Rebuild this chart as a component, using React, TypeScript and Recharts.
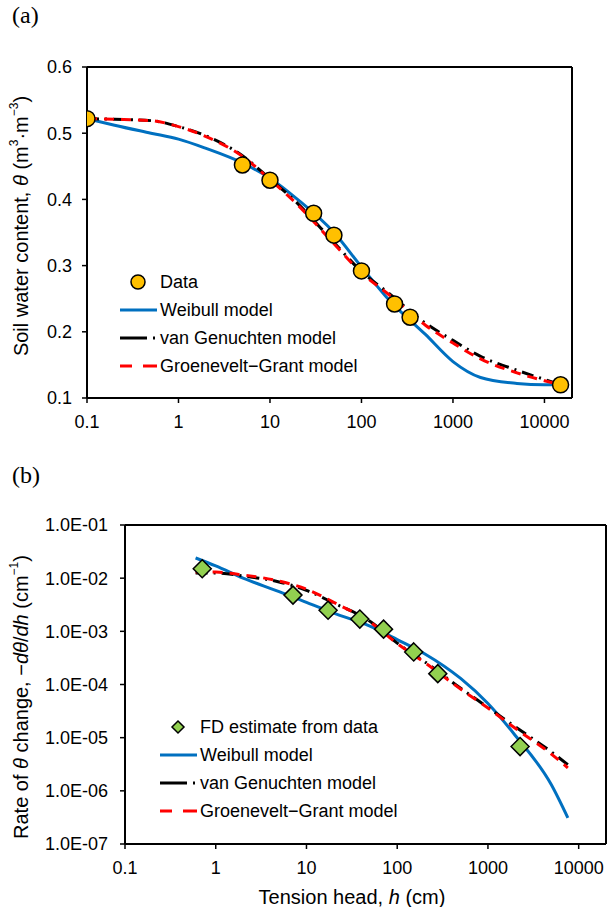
import React from 'react'
import { ComposedChart, Line, Scatter, XAxis, YAxis, ReferenceLine, Legend } from 'recharts'

const FONT = '"Liberation Sans", Arial, sans-serif'
const BLUE = '#0070C0'
const RED = '#FF0000'

// (a) water retention: measured points
const dataH = [0.1, 5, 10, 30, 50, 100, 230, 340, 15000]
const dataTheta = [0.522, 0.452, 0.429, 0.379, 0.346, 0.292, 0.242, 0.222, 0.12]

// (a) model curves
const curveH = [0.1, 0.2, 0.5, 1, 2, 5, 10, 20, 50, 100, 200, 500, 1000, 2000, 5000, 10000, 15000]
const weibullTheta = [0.522, 0.512, 0.5, 0.491, 0.477, 0.455, 0.432, 0.4, 0.35, 0.298, 0.248, 0.196, 0.155, 0.131, 0.122, 0.12, 0.12]
const vgTheta = [0.522, 0.521, 0.519, 0.51, 0.496, 0.466, 0.431, 0.394, 0.335, 0.291, 0.258, 0.213, 0.187, 0.163, 0.142, 0.128, 0.12]
const ggTheta = [0.522, 0.521, 0.519, 0.51, 0.495, 0.465, 0.43, 0.392, 0.333, 0.289, 0.256, 0.21, 0.183, 0.159, 0.138, 0.126, 0.12]

// (b) rate of change: finite-difference estimates
const fdH = [0.71, 7.1, 17.3, 38.7, 70.7, 152, 280, 2260]
const fdRate = [1.5e-2, 4.8e-3, 2.5e-3, 1.7e-3, 1.1e-3, 4.1e-4, 1.6e-4, 6.8e-6]

// (b) model curves
const rateH = [0.6, 1, 2, 5, 10, 20, 50, 100, 200, 500, 1000, 2000, 5000, 7600]
const weibullRate = [2.4e-2, 1.7e-2, 1.0e-2, 5.6e-3, 3.5e-3, 2.2e-3, 1.25e-3, 7.0e-4, 3.8e-4, 1.3e-4, 4.4e-5, 1.1e-5, 1.3e-6, 3.1e-7]
const vgRate = [1.25e-2, 1.25e-2, 1.1e-2, 8.5e-3, 5.9e-3, 3.4e-3, 1.55e-3, 6.0e-4, 2.7e-4, 8.5e-5, 3.7e-5, 1.6e-5, 5.4e-6, 3.1e-6]
const ggRate = [1.3e-2, 1.3e-2, 1.15e-2, 8.8e-3, 6.2e-3, 3.5e-3, 1.5e-3, 5.9e-4, 2.6e-4, 8.2e-5, 3.6e-5, 1.5e-5, 4.9e-6, 2.7e-6]

const xTicks = [0.1, 1, 10, 100, 1000, 10000]
const thetaTicks = [0.1, 0.2, 0.3, 0.4, 0.5, 0.6]
const rateTicks = [1e-7, 1e-6, 1e-5, 1e-4, 1e-3, 1e-2, 1e-1]

const pairs = (xs: number[], ys: number[]) => xs.map((h, i) => ({ h, v: ys[i] }))

const fmtExp = (v: number) => {
  const e = Math.round(Math.log10(v))
  return `1.0E${e < 0 ? '-' : '+'}${String(Math.abs(e)).padStart(2, '0')}`
}

const tickStyle = { fill: '#000', fontSize: 18, fontFamily: FONT }
const axisLine = { stroke: '#000', strokeWidth: 2 }
const tickLine = { stroke: '#000', strokeWidth: 1.5 }

const Circle = (p: any) => (
  <circle cx={p.cx} cy={p.cy} r={8} fill="#FFC000" stroke="#000" strokeWidth={1.5} />
)
const Diamond = (p: any) => (
  <polygon
    points={`${p.cx},${p.cy - 9} ${p.cx + 9},${p.cy} ${p.cx},${p.cy + 9} ${p.cx - 9},${p.cy}`}
    fill="#92D050" stroke="#000" strokeWidth={1.5}
  />
)

const soilLabel = () => (
  <text transform="translate(21,226) rotate(-90)" textAnchor="middle" dominantBaseline="central"
    fontFamily={FONT} fontSize={20} fill="#000">
    Soil water content, <tspan fontStyle="italic">θ</tspan> (m<tspan dy={-7} fontSize={12}>3</tspan>
    <tspan dy={7}>·m</tspan><tspan dy={-7} fontSize={12}>−3</tspan><tspan dy={7}>)</tspan>
  </text>
)

const rateLabel = () => (
  <text transform="translate(21,267) rotate(-90)" textAnchor="middle" dominantBaseline="central"
    fontFamily={FONT} fontSize={20} fill="#000">
    Rate of <tspan fontStyle="italic">θ</tspan> change, −<tspan fontStyle="italic">dθ</tspan>/<tspan fontStyle="italic">dh</tspan> (cm
    <tspan dy={-7} fontSize={12}>−1</tspan><tspan dy={7}>)</tspan>
  </text>
)

const headLabel = () => (
  <text x={352} y={467} textAnchor="middle" dominantBaseline="central" fontFamily={FONT} fontSize={20} fill="#000">
    Tension head, <tspan fontStyle="italic">h</tspan> (cm)
  </text>
)

const LegendBody = ({ first, marker }: { first: string, marker: 'circle' | 'diamond' }) => (
  <svg width={320} height={112} style={{ display: 'block' }}>
    {marker === 'circle'
      ? <circle cx={38} cy={14} r={7} fill="#FFC000" stroke="#000" strokeWidth={1.5} />
      : <polygon points="38,8 44,14 38,20 32,14" fill="#92D050" stroke="#000" strokeWidth={1.5} />}
    <line x1={20} x2={57} y1={42} y2={42} stroke={BLUE} strokeWidth={3} />
    <line x1={20} x2={57} y1={70} y2={70} stroke="#000" strokeWidth={3} strokeDasharray="27 6 2 10" />
    <line x1={20} x2={57} y1={98} y2={98} stroke={RED} strokeWidth={3} strokeDasharray="12 11 14" />
    {[first, 'Weibull model', 'van Genuchten model', 'Groenevelt−Grant model'].map((t, i) => (
      <text key={t} x={60} y={14 + i * 28} dominantBaseline="central" fontFamily={FONT} fontSize={18} fill="#000">{t}</text>
    ))}
  </svg>
)

const Panel = ({ text, top }: { text: string, top: number }) => (
  <div style={{ position: 'absolute', left: 12, top, fontFamily: '"Liberation Serif", "Times New Roman", serif', fontSize: 24 }}>{text}</div>
)

export default function App() {
  return (
    <div style={{ position: 'absolute', left: 0, top: 0, width: 608, height: 907, background: '#fff' }}>
      <div style={{ position: 'absolute', left: 0, top: 0 }}>
        <ComposedChart width={608} height={440} margin={{ top: 67, right: 36, left: 0, bottom: 0 }}>
          <XAxis dataKey="h" type="number" scale="log" domain={[0.1, 20000]} ticks={xTicks} allowDataOverflow
            tickFormatter={(v) => String(v)} tick={tickStyle} axisLine={axisLine} tickLine={tickLine}
            tickSize={5} tickMargin={12} height={42} interval={0} />
          <YAxis type="number" domain={[0.1, 0.6]} ticks={thetaTicks} allowDataOverflow
            tickFormatter={(v) => v.toFixed(1)} tick={tickStyle} axisLine={axisLine} tickLine={tickLine}
            tickSize={5} tickMargin={10} width={87} interval={0} label={soilLabel} />
          <ReferenceLine y={0.6} stroke="#000" strokeWidth={2} />
          <ReferenceLine x={20000} stroke="#000" strokeWidth={2} />
          <Line data={pairs(curveH, weibullTheta)} dataKey="v" type="monotone" stroke={BLUE} strokeWidth={3} dot={false} isAnimationActive={false} />
          <Line data={pairs(curveH, vgTheta)} dataKey="v" type="monotone" stroke="#000" strokeWidth={3} strokeDasharray="12 6 2 6" dot={false} isAnimationActive={false} />
          <Line data={pairs(curveH, ggTheta)} dataKey="v" type="monotone" stroke={RED} strokeWidth={3} strokeDasharray="10 7" dot={false} isAnimationActive={false} />
          <Scatter data={pairs(dataH, dataTheta)} dataKey="v" shape={Circle} isAnimationActive={false} />
          <Legend layout="vertical" align="center" verticalAlign="middle"
            wrapperStyle={{ left: 100, top: 268, width: 320 }}
            content={() => <LegendBody first="Data" marker="circle" />} />
        </ComposedChart>
      </div>
      <div style={{ position: 'absolute', left: 0, top: 430 }}>
        <ComposedChart width={608} height={477} margin={{ top: 95, right: 2, left: 0, bottom: 0 }}>
          <XAxis dataKey="h" type="number" scale="log" domain={[0.1, 20000]} ticks={xTicks} allowDataOverflow
            tickFormatter={(v) => String(v)} tick={tickStyle} axisLine={axisLine} tickLine={tickLine}
            tickSize={5} tickMargin={12} height={63} interval={0} label={headLabel} />
          <YAxis type="number" scale="log" domain={[1e-7, 1e-1]} ticks={rateTicks} allowDataOverflow
            tickFormatter={fmtExp} tick={tickStyle} axisLine={axisLine} tickLine={tickLine}
            tickSize={5} tickMargin={12} width={125} interval={0} label={rateLabel} />
          <ReferenceLine y={1e-1} stroke="#000" strokeWidth={2} />
          <ReferenceLine x={20000} stroke="#000" strokeWidth={2} />
          <Line data={pairs(rateH, weibullRate)} dataKey="v" type="monotone" stroke={BLUE} strokeWidth={3} dot={false} isAnimationActive={false} />
          <Line data={pairs(rateH, vgRate)} dataKey="v" type="monotone" stroke="#000" strokeWidth={3} strokeDasharray="12 6 2 6" dot={false} isAnimationActive={false} />
          <Line data={pairs(rateH, ggRate)} dataKey="v" type="monotone" stroke={RED} strokeWidth={3} strokeDasharray="10 7" dot={false} isAnimationActive={false} />
          <Scatter data={pairs(fdH, fdRate)} dataKey="v" shape={Diamond} isAnimationActive={false} />
          <Legend layout="vertical" align="center" verticalAlign="middle"
            wrapperStyle={{ left: 140, top: 283, width: 320 }}
            content={() => <LegendBody first="FD estimate from data" marker="diamond" />} />
        </ComposedChart>
      </div>
      <Panel text="(a)" top={2} />
      <Panel text="(b)" top={462} />
    </div>
  )
}
